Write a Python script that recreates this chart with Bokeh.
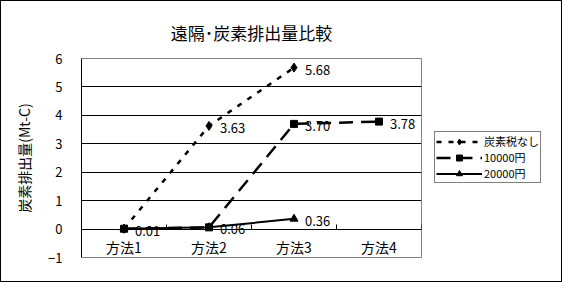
from bokeh.plotting import figure
from bokeh.layouts import row
from bokeh.models import Range1d, FixedTicker, Legend, LegendItem, ColumnDataSource
from bokeh.embed import file_html
from bokeh.resources import INLINE
from bokeh.core.properties import value

# ---- data ----
categories = ["方法1", "方法2", "方法3", "方法4"]
series_names = ["炭素税なし", "10000円", "20000円"]
no_tax = [0.01, 3.63, 5.68, float("nan")]
tax_10000 = [0.01, 0.06, 3.70, 3.78]
tax_20000 = [0.01, 0.06, 0.36, float("nan")]
y_ticks = [-1, 0, 1, 2, 3, 4, 5, 6]
title_text = "遠隔･炭素排出量比較"
y_label = "炭素排出量(Mt-C)"

JP = "Noto Sans CJK JP"
xs = list(range(1, len(categories) + 1))

p = figure(width=421, height=280, output_backend="svg", toolbar_location=None,
           x_range=Range1d(0.5, len(categories) + 0.5), y_range=Range1d(min(y_ticks), max(y_ticks)),
           min_border_left=80, min_border_right=1, min_border_top=57, min_border_bottom=24)
p.background_fill_color = "white"
p.border_fill_color = "white"
p.outline_line_color = "#808080"
p.outline_line_width = 1

# title
p.title.text = title_text
p.title.align = "center"
p.title.offset = 30
p.title.standoff = 28
p.title.text_font = JP
p.title.text_font_size = "17px"
p.title.text_font_style = "normal"
p.title.text_color = "black"

# grid
p.xgrid.grid_line_color = None
p.ygrid.ticker = FixedTicker(ticks=[t for t in y_ticks if min(y_ticks) < t < max(y_ticks)])
p.ygrid.grid_line_color = "black"
p.ygrid.grid_line_width = 1

# y axis
p.yaxis.ticker = FixedTicker(ticks=y_ticks)
p.yaxis.axis_label = y_label
p.yaxis.axis_label_text_font = JP
p.yaxis.axis_label_text_font_size = "14px"
p.yaxis.axis_label_text_font_style = "normal"
p.yaxis.axis_label_text_color = "black"
p.yaxis.axis_label_standoff = 11
p.yaxis.major_label_standoff = 19
p.yaxis.major_label_text_font = JP
p.yaxis.major_label_text_font_size = "13px"
p.yaxis.major_label_text_color = "black"
p.yaxis.major_tick_line_color = None
p.yaxis.major_tick_out = 0
p.yaxis.major_tick_in = 0
p.yaxis.minor_tick_line_color = None
p.yaxis.minor_tick_out = 0
p.yaxis.axis_line_color = "black"

# x axis at y=0
p.xaxis.fixed_location = 0
p.xaxis.ticker = FixedTicker(ticks=xs, minor_ticks=[x - 0.5 for x in xs] + [xs[-1] + 0.5])
p.xaxis.major_label_overrides = {x: c for x, c in zip(xs, categories)}
p.xaxis.major_label_text_font = JP
p.xaxis.major_label_text_font_size = "14px"
p.xaxis.major_label_text_color = "black"
p.xaxis.major_label_standoff = 8
p.xaxis.major_tick_line_color = None
p.xaxis.major_tick_out = 0
p.xaxis.major_tick_in = 0
p.xaxis.minor_tick_line_color = "black"
p.xaxis.minor_tick_in = 5
p.xaxis.minor_tick_out = 0
p.xaxis.axis_line_color = "black"

styles = [
    dict(dash="5 7", width=2.5, marker="diamond", size=9),
    dict(dash="14 8", width=2.5, marker="square", size=7),
    dict(dash="solid", width=2, marker="triangle", size=8),
]
series_vals = [no_tax, tax_10000, tax_20000]
sources = [ColumnDataSource(dict(x=xs, y=vals)) for vals in series_vals]

draw_order = [0, 2, 1]
for i in draw_order:
    st = styles[i]
    p.line("x", "y", source=sources[i], line_color="black", line_width=st["width"], line_dash=st["dash"])
    p.scatter("x", "y", source=sources[i], marker=st["marker"], size=st["size"],
              fill_color="black", line_color="black")

# data labels
seen = set()
lx, ly, lt = [], [], []
for vals in series_vals:
    for x, v in zip(xs, vals):
        if v != v:
            continue
        t = f"{v:.2f}"
        if (x, t) in seen:
            continue
        seen.add((x, t))
        lx.append(x); ly.append(v); lt.append(t)
p.text(x=lx, y=ly, text=lt, x_offset=11, y_offset=2, text_baseline="middle", text_align="left",
       text_font=value(JP), text_font_size="13px", text_color="black")

# ---- legend panel (separate figure at the right; its ranges show none of the data) ----
q = figure(width=139, height=280, output_backend="svg", toolbar_location=None,
           x_range=Range1d(-2, -1), y_range=Range1d(-2, -1), x_axis_type=None, y_axis_type=None,
           min_border=0)
q.outline_line_color = None
q.grid.grid_line_color = None
q.background_fill_color = "white"
q.border_fill_color = "white"
items = []
for i, name in enumerate(series_names):
    st = styles[i]
    lr = q.line("x", "y", source=sources[i], line_color="black", line_width=st["width"], line_dash=st["dash"])
    sr = q.scatter("x", "y", source=sources[i], marker=st["marker"], size=st["size"],
                   fill_color="black", line_color="black")
    items.append(LegendItem(label=name, renderers=[lr, sr]))

legend = Legend(items=items, location=(12, 74))
legend.border_line_color = "black"
legend.border_line_width = 1
legend.background_fill_color = "white"
legend.background_fill_alpha = 1
legend.padding = 1
legend.spacing = 0
legend.margin = 0
legend.glyph_width = 46
legend.glyph_height = 15
legend.label_height = 15
legend.label_standoff = 2
legend.label_text_font = JP
legend.label_text_font_size = "11px"
legend.label_text_color = "black"
q.add_layout(legend, "center")

layout = row(p, q)
layout.styles = {"border": "1px solid black"}

open("out.html", "w").write(file_html(layout, INLINE))
